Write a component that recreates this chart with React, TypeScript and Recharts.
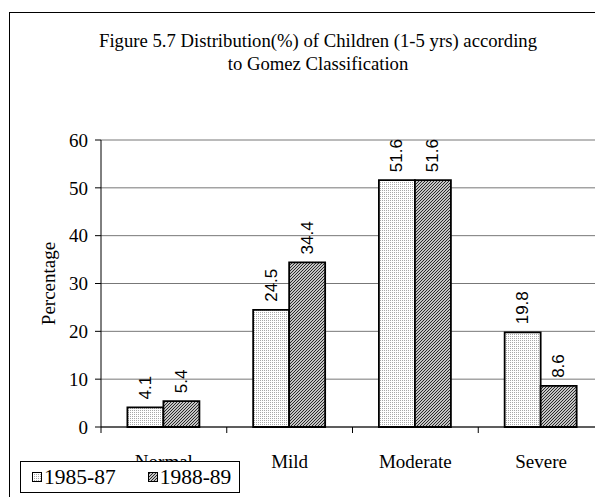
import { Bar, BarChart, CartesianGrid, LabelList, Legend, XAxis, YAxis } from 'recharts'

const categories = ['Normal', 'Mild', 'Moderate', 'Severe']
const series1985 = [4.1, 24.5, 51.6, 19.8]
const series1988 = [5.4, 34.4, 51.6, 8.6]
const seriesNames = ['1985-87', '1988-89']
const yTicks = [0, 10, 20, 30, 40, 50, 60]
const titleLines = [
  'Figure 5.7 Distribution(%) of Children (1-5 yrs) according',
  'to Gomez Classification',
]

const data = categories.map((name, i) => ({
  name,
  a: series1985[i],
  b: series1988[i],
}))

const CHART_W = 620
const CHART_H = 497
const Y_AXIS_W = 101
const MARGIN_R = 16
const BAND = (CHART_W - Y_AXIS_W - MARGIN_R) / categories.length
const SERIF = 'Liberation Serif, Times New Roman, serif'
const SANS = 'Liberation Sans, Arial, sans-serif'
const patternIds = ['dots1985', 'hatch1988']

function ValueLabel(props: any) {
  const { x, y, width, value } = props
  const cx = Number(x) + Number(width) / 2
  const cy = Number(y) - 8
  return (
    <text
      x={cx}
      y={cy}
      transform={`rotate(-90 ${cx} ${cy})`}
      textAnchor="start"
      dominantBaseline="central"
      style={{ fontFamily: SANS, fontSize: 17 }}
      fill="#000"
    >
      {value}
    </text>
  )
}

function CategoryTick(props: any) {
  const { x, y, payload } = props
  const left = x - BAND / 2
  return (
    <g>
      <line x1={left} y1={y} x2={left} y2={y + 6} stroke="#000" />
      <text x={x} y={y + 41} textAnchor="middle" style={{ fontFamily: SERIF, fontSize: 19 }} fill="#000">
        {payload.value}
      </text>
    </g>
  )
}

function LegendBox() {
  return (
    <div
      style={{
        width: 218,
        height: 30,
        border: '1px solid #000',
        background: '#fff',
        display: 'flex',
        alignItems: 'center',
        fontFamily: SERIF,
        fontSize: 21.5,
        color: '#000',
      }}
    >
      {seriesNames.map((n, i) => (
        <span key={n} style={{ display: 'flex', alignItems: 'center', marginLeft: i === 0 ? 11 : 32 }}>
          <svg width={10} height={10}>
            <rect x={0.5} y={0.5} width={9} height={9} fill={`url(#${patternIds[i]})`} stroke="#000" />
          </svg>
          <span style={{ marginLeft: 2 }}>{n}</span>
        </span>
      ))}
    </div>
  )
}

export default function App() {
  return (
    <div style={{ position: 'absolute', left: 0, top: 0, width: 595, height: 497, overflow: 'hidden', background: '#fff' }}>
      <div
        style={{ position: 'absolute', left: 9, top: 12, width: 700, height: 600, border: '1px solid #000' }}
      />
      <BarChart
        width={CHART_W}
        height={CHART_H}
        data={data}
        margin={{ top: 140, right: MARGIN_R, bottom: 0, left: 0 }}
        barCategoryGap="21%"
        barGap={0}
      >
        <defs>
          <pattern id="dots1985" patternUnits="userSpaceOnUse" width={2} height={2}>
            <rect width={2} height={2} fill="#fff" />
            <rect width={1} height={1} fill="#a8a8a8" />
          </pattern>
          <pattern id="hatch1988" patternUnits="userSpaceOnUse" width={3} height={3}>
            <rect width={3} height={3} fill="#c4c4c4" />
            <path d="M0,3 L3,0 M-1,1 L1,-1 M2,4 L4,2" stroke="#2a2a2a" strokeWidth={1} />
          </pattern>
        </defs>
        {titleLines.map((t, i) => (
          <text key={t} x={318} y={47 + i * 23} textAnchor="middle" style={{ fontFamily: SERIF, fontSize: 18.7 }} fill="#000">
            {t}
          </text>
        ))}
        <CartesianGrid vertical={false} stroke="#777" />
        <XAxis
          dataKey="name"
          height={70}
          axisLine={{ stroke: '#000' }}
          tickLine={false}
          tickSize={0}
          tickMargin={0}
          tick={<CategoryTick />}
          interval={0}
        />
        <YAxis
          width={Y_AXIS_W}
          domain={[0, 60]}
          ticks={yTicks}
          interval={0}
          axisLine={{ stroke: '#000' }}
          tickLine={{ stroke: '#000' }}
          tickSize={6}
          tickMargin={7}
          tick={{ style: { fontFamily: SERIF, fontSize: 19 }, fill: '#000' }}
          label={{
            value: 'Percentage',
            angle: -90,
            position: 'insideLeft',
            offset: 48,
            style: { fontFamily: SERIF, fontSize: 19, fill: '#000', textAnchor: 'middle' },
          }}
        />
        <Legend
          layout="horizontal"
          verticalAlign="middle"
          align="center"
          content={<LegendBox />}
          wrapperStyle={{ left: 20, top: 461, width: 220, height: 32 }}
        />
        <Bar dataKey="a" name={seriesNames[0]} fill="url(#dots1985)" stroke="#000" strokeWidth={1.8} isAnimationActive={false}>
          <LabelList dataKey="a" content={<ValueLabel />} />
        </Bar>
        <Bar dataKey="b" name={seriesNames[1]} fill="url(#hatch1988)" stroke="#000" strokeWidth={1.8} isAnimationActive={false}>
          <LabelList dataKey="b" content={<ValueLabel />} />
        </Bar>
      </BarChart>
    </div>
  )
}
